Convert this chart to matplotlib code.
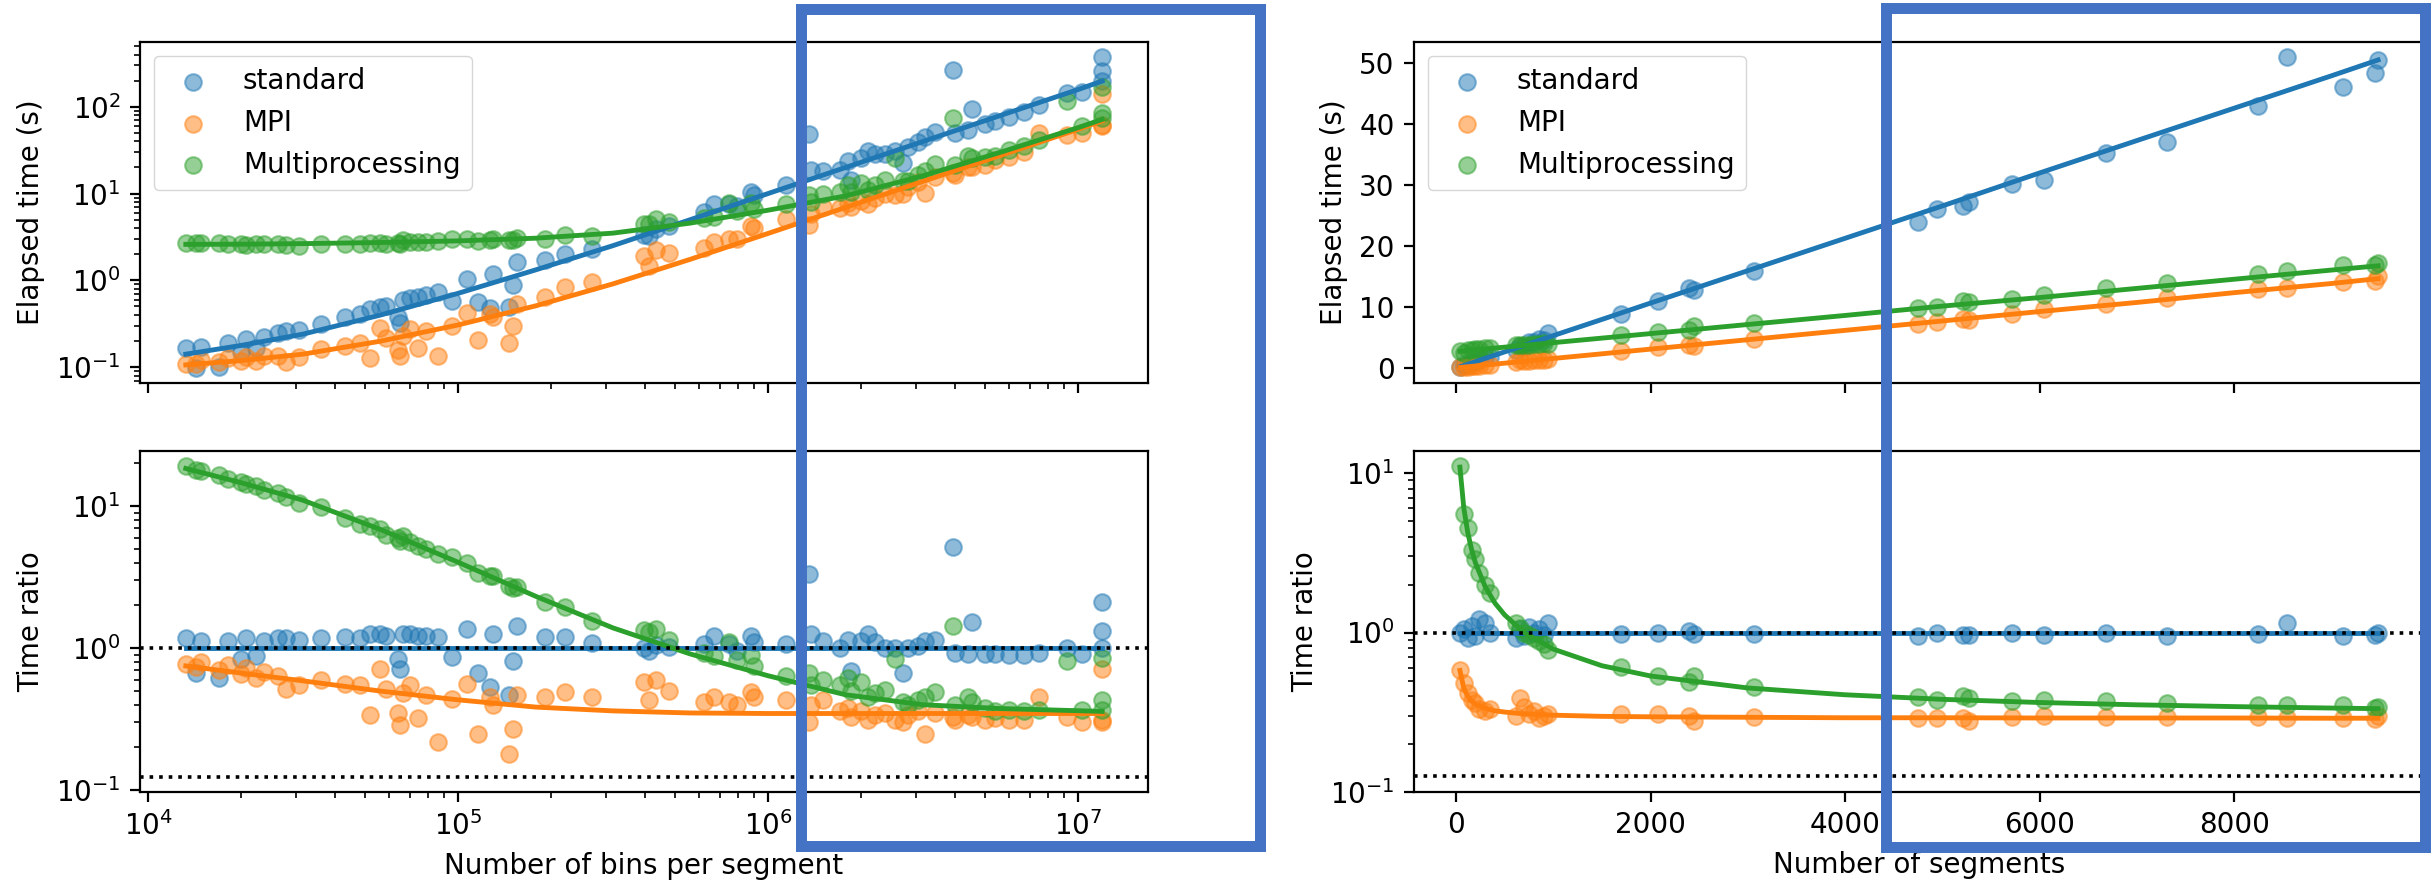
import matplotlib.pyplot as plt
from matplotlib.patches import Rectangle

# ---- left figure: elapsed time vs number of bins per segment ----
bins_l = [13240, 14260, 14790, 16980, 18070, 19950, 20700, 22280, 23710, 26180,
          27860, 30760, 36220, 43050, 48190, 51880, 55850, 58750, 64120, 64860,
          66530, 69980, 74300, 79070, 86300, 95280, 106700, 116400, 126800, 130000,
          145600, 151000, 154900, 191400, 221800, 270400, 398100, 412100, 436500, 478600,
          622300, 669900, 749900, 794300, 881000, 903600, 1143000, 1361000, 1380000, 1503000,
          1702000, 1811000, 1858000, 2000000, 2104000, 2208000, 2382000, 2564000, 2729000, 2831000,
          3055000, 3206000, 3451000, 3963000, 4009000, 4426000, 4539000, 5012000, 5408000, 5970000,
          6683000, 7464000, 9204000, 10300000, 11970000, 11970000, 11970000]
std_time_l = [0.166, 0.099, 0.170, 0.101, 0.190, 0.149, 0.213, 0.168, 0.225, 0.248,
              0.261, 0.271, 0.316, 0.378, 0.410, 0.463, 0.494, 0.507, 0.381, 0.326,
              0.589, 0.619, 0.642, 0.683, 0.727, 0.580, 1.03, 0.559, 0.484, 1.17,
              0.499, 0.894, 1.63, 1.72, 2.03, 2.28, 3.31, 3.28, 3.88, 4.21,
              6.06, 7.54, 7.57, 7.21, 10.5, 9.74, 12.6, 48.3, 18.5, 18.2,
              18.9, 23.5, 14.5, 25.7, 30.8, 28.5, 28.3, 31.0, 22.3, 34.8,
              39.3, 45.3, 50.9, 269, 49.3, 54.2, 93.3, 63.0, 69.0, 76.8,
              87.9, 104, 144, 150, 370, 262, 198]
mpi_time_l = [0.110, 0.109, 0.121, 0.114, 0.128, 0.117, 0.131, 0.118, 0.135, 0.136,
              0.115, 0.130, 0.162, 0.176, 0.191, 0.126, 0.281, 0.216, 0.159, 0.133,
              0.226, 0.273, 0.168, 0.263, 0.134, 0.297, 0.425, 0.208, 0.411, 0.376,
              0.191, 0.298, 0.533, 0.644, 0.828, 0.949, 1.92, 1.48, 2.22, 2.07,
              2.38, 2.78, 2.97, 3.03, 4.21, 3.98, 5.05, 4.35, 5.89, 7.00,
              6.81, 7.76, 6.94, 8.27, 7.57, 8.80, 9.91, 9.60, 10.0, 11.8,
              13.7, 10.1, 15.5, 17.2, 16.4, 20.3, 20.3, 21.4, 24.3, 26.4,
              30.3, 50.3, 47.4, 49.3, 141, 61.5, 59.5]
mp_time_l = [2.69, 2.66, 2.68, 2.68, 2.61, 2.63, 2.58, 2.64, 2.59, 2.61,
             2.54, 2.47, 2.65, 2.61, 2.61, 2.71, 2.73, 2.62, 2.72, 2.62,
             2.92, 2.77, 2.74, 2.80, 2.81, 2.97, 3.03, 2.83, 2.93, 3.01,
             2.92, 2.93, 3.06, 3.01, 3.30, 3.27, 4.47, 4.49, 5.03, 4.75,
             5.27, 5.44, 7.79, 6.30, 7.73, 6.64, 7.52, 9.71, 8.10, 9.77,
             10.4, 12.7, 10.5, 13.3, 11.0, 12.4, 14.4, 26.0, 14.0, 13.9,
             16.4, 18.2, 21.7, 75.2, 21.2, 26.8, 25.8, 26.3, 27.3, 31.6,
             35.2, 41.3, 116, 60.8, 169, 85.3, 73.4]
std_ratio_l = [1.17, 0.67, 1.13, 0.62, 1.13, 0.84, 1.17, 0.88, 1.13, 1.17,
               1.18, 1.15, 1.17, 1.20, 1.18, 1.25, 1.25, 1.22, 0.84, 0.71,
               1.25, 1.25, 1.22, 1.22, 1.19, 0.86, 1.36, 0.67, 0.53, 1.25,
               0.47, 0.81, 1.44, 1.20, 1.20, 1.08, 1.00, 0.95, 1.05, 1.02,
               1.07, 1.22, 1.07, 0.95, 1.22, 1.10, 1.07, 3.33, 1.26, 1.12,
               1.00, 1.15, 0.69, 1.12, 1.26, 1.10, 1.00, 1.00, 0.67, 1.00,
               1.03, 1.12, 1.15, 5.15, 0.93, 0.91, 1.52, 0.91, 0.91, 0.90,
               0.90, 0.93, 1.00, 0.91, 2.10, 1.32, 1.00]
mpi_ratio_l = [0.78, 0.74, 0.80, 0.70, 0.76, 0.66, 0.72, 0.62, 0.68, 0.64,
               0.52, 0.55, 0.60, 0.56, 0.55, 0.34, 0.71, 0.52, 0.35, 0.29,
               0.48, 0.55, 0.32, 0.47, 0.22, 0.44, 0.56, 0.25, 0.45, 0.40,
               0.18, 0.27, 0.47, 0.45, 0.49, 0.45, 0.58, 0.43, 0.60, 0.50,
               0.42, 0.45, 0.42, 0.40, 0.49, 0.45, 0.43, 0.30, 0.40, 0.43,
               0.36, 0.38, 0.33, 0.36, 0.31, 0.34, 0.35, 0.31, 0.30, 0.34,
               0.36, 0.25, 0.35, 0.33, 0.31, 0.34, 0.33, 0.31, 0.32, 0.31,
               0.31, 0.45, 0.33, 0.30, 0.71, 0.31, 0.30]
mp_ratio_l = [19.0, 18.0, 17.8, 16.5, 15.5, 14.8, 14.2, 13.8, 13.0, 12.3,
              11.5, 10.5, 9.8, 8.3, 7.5, 7.3, 6.9, 6.3, 6.0, 5.7,
              6.2, 5.6, 5.2, 5.0, 4.6, 4.4, 4.0, 3.4, 3.2, 3.2,
              2.75, 2.65, 2.7, 2.1, 1.95, 1.55, 1.35, 1.30, 1.36, 1.15,
              0.93, 0.88, 1.10, 0.83, 0.90, 0.75, 0.64, 0.67, 0.55, 0.60,
              0.55, 0.62, 0.50, 0.58, 0.45, 0.48, 0.51, 0.84, 0.42, 0.40,
              0.43, 0.45, 0.49, 1.44, 0.40, 0.45, 0.42, 0.38, 0.36, 0.37,
              0.36, 0.37, 0.81, 0.37, 0.85, 0.43, 0.37]

# fitted curves (left)
fit_x_l = [13240, 20000, 31600, 56200, 100000, 178000, 316000, 562000,
           1000000, 1780000, 3160000, 5620000, 10000000, 11970000]
std_fit_l = [0.141, 0.178, 0.240, 0.398, 0.708, 1.32, 2.51, 5.01, 10.0, 20.0, 39.8, 79.4, 158, 198]
mpi_fit_l = [0.106, 0.119, 0.141, 0.199, 0.306, 0.508, 0.91, 1.75, 3.47, 6.92, 13.8, 27.5, 55.0, 69.0]
mp_fit_l = [2.60, 2.61, 2.65, 2.73, 2.85, 3.06, 3.50, 4.57, 6.43, 9.40, 16.0, 29.9, 57.5, 71.6]
std_rfit_l = [1.0, 1.0, 1.0, 1.0, 1.0, 1.0, 1.0, 1.0, 1.0, 1.0, 1.0, 1.0, 1.0, 1.0]
mpi_rfit_l = [0.75, 0.668, 0.589, 0.499, 0.433, 0.385, 0.362, 0.350, 0.347, 0.347, 0.347, 0.347, 0.347, 0.347]
mp_rfit_l = [18.4, 14.6, 11.0, 6.85, 4.03, 2.32, 1.39, 0.91, 0.64, 0.47, 0.40, 0.376, 0.363, 0.359]

# ---- right figure: elapsed time vs number of segments ----
segs_r = [40, 80, 120, 160, 200, 240, 300, 350, 620, 660, 700, 750, 800, 850, 900, 950,
          1700, 2080, 2400, 2450, 3060, 4750, 4940, 5210, 5270, 5720, 6050, 6680, 7310,
          8250, 8540, 9120, 9450, 9480]
std_time_r = [0.26, 0.50, 0.64, 0.99, 1.06, 1.61, 1.89, 1.91, 3.08, 3.73, 3.58, 4.36, 4.30, 4.80, 4.69, 5.86,
              8.91, 11.1, 13.1, 12.8, 16.0, 24.0, 26.1, 26.6, 27.2, 30.2, 30.9, 35.2, 37.0,
              43.0, 50.9, 46.1, 48.3, 50.5]
mpi_time_r = [0.151, 0.227, 0.288, 0.341, 0.400, 0.437, 0.525, 0.630, 1.00, 1.39, 1.28, 1.25, 1.38, 1.32, 1.45, 1.58,
              2.82, 3.44, 3.84, 3.66, 4.81, 7.34, 7.63, 8.05, 7.86, 8.99, 9.67, 10.5, 11.5,
              13.0, 13.2, 14.1, 14.3, 15.1]
mp_time_r = [2.86, 2.60, 3.08, 2.96, 3.22, 3.11, 3.28, 3.36, 3.81, 3.77, 3.77, 3.87, 3.96, 4.02, 4.11, 3.98,
             5.54, 5.89, 6.28, 6.93, 7.44, 9.97, 10.0, 11.1, 10.9, 11.3, 12.1, 13.2, 14.0,
             15.4, 15.9, 17.0, 16.9, 17.2]
std_ratio_r = [1.00, 1.05, 0.93, 1.10, 0.95, 1.22, 1.15, 1.00, 0.92, 1.05, 0.95, 1.08, 1.00, 1.05, 0.97, 1.15,
               0.98, 1.00, 1.02, 0.98, 0.98, 0.95, 0.99, 0.96, 0.97, 0.99, 0.96, 0.99, 0.95,
               0.98, 1.14, 0.95, 0.96, 1.00]
mpi_ratio_r = [0.58, 0.48, 0.42, 0.38, 0.36, 0.33, 0.32, 0.33, 0.30, 0.39, 0.34, 0.31, 0.32, 0.29, 0.30, 0.31,
               0.31, 0.31, 0.30, 0.28, 0.295, 0.29, 0.29, 0.29, 0.28, 0.295, 0.30, 0.295, 0.295,
               0.295, 0.29, 0.29, 0.285, 0.30]
mp_ratio_r = [11.0, 5.5, 4.5, 3.3, 2.9, 2.35, 2.0, 1.76, 1.14, 1.06, 1.00, 0.96, 0.92, 0.88, 0.85, 0.78,
              0.61, 0.53, 0.49, 0.53, 0.456, 0.394, 0.38, 0.40, 0.39, 0.37, 0.375, 0.37, 0.36,
              0.35, 0.35, 0.35, 0.335, 0.34]

# fitted curves (right)
fit_x_r = [40, 80, 120, 160, 200, 300, 400, 500, 700, 1000, 1500, 2000, 3000, 4000, 5000,
           6000, 7000, 8000, 9000, 9480]
std_fit_r = [0.260, 0.472, 0.685, 0.898, 1.11, 1.64, 2.17, 2.71, 3.77, 5.37, 8.02, 10.7, 16.0, 21.3, 26.6,
             32.0, 37.3, 42.6, 47.9, 50.5]
mpi_fit_r = [0.150, 0.212, 0.273, 0.334, 0.396, 0.549, 0.703, 0.857, 1.16, 1.63, 2.39, 3.16, 4.70, 6.23, 7.77,
             9.31, 10.8, 12.4, 13.9, 14.7]
mp_fit_r = [2.80, 2.86, 2.92, 2.98, 3.04, 3.19, 3.33, 3.48, 3.78, 4.22, 4.96, 5.70, 7.19, 8.67, 10.2,
            11.6, 13.1, 14.6, 16.1, 16.8]
std_rfit_r = [1.0, 1.0, 1.0, 1.0, 1.0, 1.0, 1.0, 1.0, 1.0, 1.0, 1.0, 1.0, 1.0, 1.0, 1.0,
              1.0, 1.0, 1.0, 1.0, 1.0]
mpi_rfit_r = [0.578, 0.448, 0.398, 0.372, 0.356, 0.335, 0.323, 0.317, 0.309, 0.303, 0.298, 0.296, 0.294,
              0.292, 0.292, 0.291, 0.291, 0.291, 0.290, 0.290]
mp_rfit_r = [10.9, 6.05, 4.26, 3.32, 2.73, 1.94, 1.53, 1.29, 1.00, 0.787, 0.619, 0.534, 0.449, 0.407,
             0.381, 0.364, 0.352, 0.343, 0.336, 0.333]

labels = ['standard', 'MPI', 'Multiprocessing']
colors = ['#1f77b4', '#ff7f0e', '#2ca02c']
ideal_ratios = [1.0, 0.125]

plt.rcParams.update({
    'font.size': 20,
    'axes.linewidth': 1.6,
    'xtick.major.size': 7, 'ytick.major.size': 7,
    'xtick.major.width': 1.6, 'ytick.major.width': 1.6,
    'xtick.minor.size': 4, 'ytick.minor.size': 4,
    'xtick.minor.width': 1.2, 'ytick.minor.width': 1.2,
    'xtick.major.pad': 7, 'ytick.major.pad': 7,
    'axes.labelpad': 8,
    'legend.fontsize': 20,
})

W, H = 2433, 888
fig = plt.figure(figsize=(W / 100, H / 100), dpi=100)


def px_axes(x0, x1, ytop, ybot, **kw):
    return fig.add_axes([x0 / W, (H - ybot) / H, (x1 - x0) / W, (ybot - ytop) / H], **kw)


def draw_pair(ax_t, ax_b, x, times, ratios, fx, fits, rfits):
    for t, r, f, rf, lab, c in zip(times, ratios, fits, rfits, labels, colors):
        ax_t.scatter(x, t, s=144, color=c, alpha=0.5, linewidths=1.5, label=lab)
        ax_t.plot(fx, f, color=c, lw=3.5)
        ax_b.scatter(x, r, s=144, color=c, alpha=0.5, linewidths=1.5)
        ax_b.plot(fx, rf, color=c, lw=3.5)
    for y in ideal_ratios:
        ax_b.axhline(y, color='k', ls=':', lw=2.6)
    ax_b.set_yscale('log')
    ax_t.set_ylabel('Elapsed time (s)')
    ax_b.set_ylabel('Time ratio')
    ax_t.legend(loc='upper left')
    ax_t.tick_params(labelbottom=False)


# left pair
axl_t = px_axes(140, 1148, 42, 383)
axl_b = px_axes(140, 1148, 451, 792, sharex=axl_t)
axl_t.set_xscale('log')
axl_t.set_yscale('log')
draw_pair(axl_t, axl_b, bins_l,
          [std_time_l, mpi_time_l, mp_time_l],
          [std_ratio_l, mpi_ratio_l, mp_ratio_l],
          fit_x_l, [std_fit_l, mpi_fit_l, mp_fit_l],
          [std_rfit_l, mpi_rfit_l, mp_rfit_l])
axl_b.set_xlabel('Number of bins per segment')

# right pair
axr_t = px_axes(1414, 2424, 42, 383)
axr_b = px_axes(1414, 2424, 451, 792, sharex=axr_t)
draw_pair(axr_t, axr_b, segs_r,
          [std_time_r, mpi_time_r, mp_time_r],
          [std_ratio_r, mpi_ratio_r, mp_ratio_r],
          fit_x_r, [std_fit_r, mpi_fit_r, mp_fit_r],
          [std_rfit_r, mpi_rfit_r, mp_rfit_r])
axr_b.set_xlabel('Number of segments')

# blue highlight boxes drawn over the figure
for x0, x1, ytop, ybot in [(800.5, 1260.5, 9.5, 845.5), (1886, 2424.5, 8.5, 847)]:
    fig.add_artist(Rectangle((x0 / W, (H - ybot) / H), (x1 - x0) / W, (ybot - ytop) / H,
                             transform=fig.transFigure, fill=False, edgecolor='#4472c4',
                             lw=7.9, joinstyle='miter', zorder=10))

fig.savefig('out.png', dpi=100)
